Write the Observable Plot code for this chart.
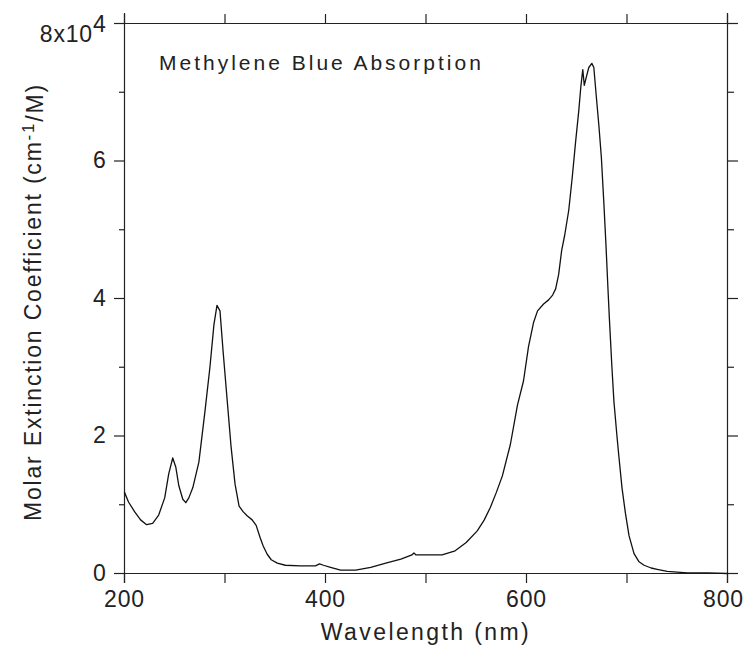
<!DOCTYPE html>
<html>
<head>
<meta charset="utf-8">
<script src="https://cdn.jsdelivr.net/npm/d3@7"></script>
<script src="https://cdn.jsdelivr.net/npm/@observablehq/plot@0.6"></script>
<style>
  html, body { margin: 0; padding: 0; background: #fff; }
  #chart svg { display: block; }
</style>
</head>
<body>
<div id="chart"></div>
<script>
// Wavelength (nm)
const wavelength = [
  200, 204, 210, 216, 222, 228, 234, 240, 244, 248, 251, 254, 258, 261, 264, 268, 274,
  280, 285, 289, 292, 295, 298, 302, 306, 310, 314, 318, 322, 327, 331, 335, 338, 342,
  346, 352, 360, 375, 390, 394, 398, 405, 415, 430, 445, 460, 475, 486, 488, 490, 516,
  529, 540, 551, 558, 564, 570, 576, 584, 591, 597, 602, 607, 611, 617, 622, 626, 629,
  632, 635, 638, 642, 645.5, 649, 652, 654, 656, 657.5, 659.5, 662, 665, 667, 669.5,
  672, 674.5, 677, 679, 681, 682.5, 685, 687, 690, 692, 695, 698.5, 702, 707, 712, 717,
  724, 730, 740, 750, 760, 780, 800
];
// Molar extinction coefficient (x10^4 cm^-1/M)
const extinction = [
  1.18, 1.04, 0.90, 0.78, 0.71, 0.73, 0.85, 1.10, 1.45, 1.68, 1.55, 1.28, 1.08, 1.03, 1.10, 1.25, 1.62,
  2.35, 3.00, 3.62, 3.90, 3.82, 3.25, 2.55, 1.85, 1.30, 0.98, 0.90, 0.84, 0.78, 0.70, 0.52, 0.40, 0.28,
  0.20, 0.15, 0.12, 0.11, 0.11, 0.14, 0.12, 0.09, 0.05, 0.05, 0.09, 0.15, 0.21, 0.27, 0.30, 0.27, 0.27,
  0.33, 0.45, 0.62, 0.78, 0.96, 1.18, 1.42, 1.88, 2.45, 2.80, 3.30, 3.65, 3.82, 3.92, 3.98, 4.05, 4.14,
  4.35, 4.70, 4.92, 5.28, 5.76, 6.30, 6.73, 7.07, 7.33, 7.10, 7.22, 7.36, 7.42, 7.36, 6.93,
  6.52, 6.05, 5.38, 4.80, 4.16, 3.70, 3.00, 2.50, 2.00, 1.69, 1.25, 0.87, 0.55, 0.29, 0.17, 0.12,
  0.08, 0.06, 0.03, 0.02, 0.01, 0.01, 0.00
];

const xTicks = [200, 300, 400, 500, 600, 700, 800];
const xTickLabels = [200, 400, 600, 800];
const yMajorTicks = [0, 2, 4, 6, 8];
const yMinorTicks = [1, 3, 5, 7];
const titleText = "Methylene Blue Absorption";
const xLabelText = "Wavelength (nm)";
const yLabelMain = "Molar Extinction Coefficient (cm";
const yLabelSup = "-1";
const yLabelEnd = "/M)";
const topTickLabel = "8x10";
const topTickExp = "4";

const data = wavelength.map((w, i) => ({w, v: extinction[i]}));
const ink = "#222";

const chart = Plot.plot({
  width: 745,
  height: 645,
  marginLeft: 124,
  marginRight: 18,
  marginTop: 23,
  marginBottom: 72,
  x: {domain: [200, 800]},
  y: {domain: [0, 8]},
  style: {fontFamily: "'Liberation Sans', Arial, sans-serif", fontSize: "23px", color: ink, background: "#fff"},
  marks: [
    Plot.ruleY([0, 8], {insetLeft: -10, insetRight: -10, stroke: ink, strokeWidth: 1.2}),
    Plot.ruleX([200, 800], {insetTop: -10, insetBottom: -10, stroke: ink, strokeWidth: 1.2}),
    Plot.axisX(xTicks, {anchor: "bottom", tickSize: 10, tickPadding: 7,
      tickFormat: d => xTickLabels.includes(d) ? String(d) : "", label: null, strokeWidth: 1.2}),
    Plot.axisX(xTicks, {anchor: "top", tickSize: 10, tickFormat: () => "", label: null, strokeWidth: 1.2}),
    Plot.axisY(yMajorTicks, {anchor: "left", tickSize: 10, tickPadding: 8,
      tickFormat: d => d === 8 ? topTickLabel : String(d), label: null, strokeWidth: 1.2}),
    Plot.axisY(yMinorTicks, {anchor: "left", tickSize: 5, tickFormat: () => "", label: null, strokeWidth: 1.2}),
    Plot.axisY(yMajorTicks, {anchor: "right", tickSize: 10, tickFormat: () => "", label: null, strokeWidth: 1.2}),
    Plot.axisY(yMinorTicks, {anchor: "right", tickSize: 6, tickFormat: () => "", label: null, strokeWidth: 1.2}),
    Plot.line(data, {x: "w", y: "v", stroke: "#111", strokeWidth: 1.3})
  ]
});

const svg = d3.select(chart);
svg.selectAll("text").style("letter-spacing", "0.8px");

// keep the last x tick label inside the picture
svg.selectAll("text").filter(function() { return this.textContent === "800"; })
  .each(function() {
    const t = this.getAttribute("transform") || "";
    this.setAttribute("transform", t + " translate(-4,0)");
  });

// superscript on 8x10^4 tick label
svg.selectAll("text").filter(function() { return this.textContent === topTickLabel; })
  .each(function() {
    const t = this.getAttribute("transform") || "";
    this.setAttribute("transform", t + " translate(0,11)");
    d3.select(this).append("tspan").attr("dy", "-0.45em").text(topTickExp);
  });

// title
svg.append("text")
  .attr("x", 159).attr("y", 70)
  .attr("text-anchor", "start")
  .attr("font-size", 21)
  .attr("fill", ink)
  .style("letter-spacing", "3px")
  .text(titleText);

// x label
svg.append("text")
  .attr("x", 426).attr("y", 640)
  .attr("text-anchor", "middle")
  .attr("font-size", 23)
  .attr("fill", ink)
  .style("letter-spacing", "2.4px")
  .text(xLabelText);

// y label
const yl = svg.append("text")
  .attr("transform", "translate(41,302) rotate(-90)")
  .attr("text-anchor", "middle")
  .attr("font-size", 23)
  .attr("fill", ink)
  .style("letter-spacing", "1.8px");
yl.append("tspan").text(yLabelMain);
yl.append("tspan").attr("dy", "-0.4em").attr("font-size", 17).text(yLabelSup);
yl.append("tspan").attr("dy", "0.4em").text(yLabelEnd);

document.getElementById("chart").appendChild(chart);
</script>
</body>
</html>
